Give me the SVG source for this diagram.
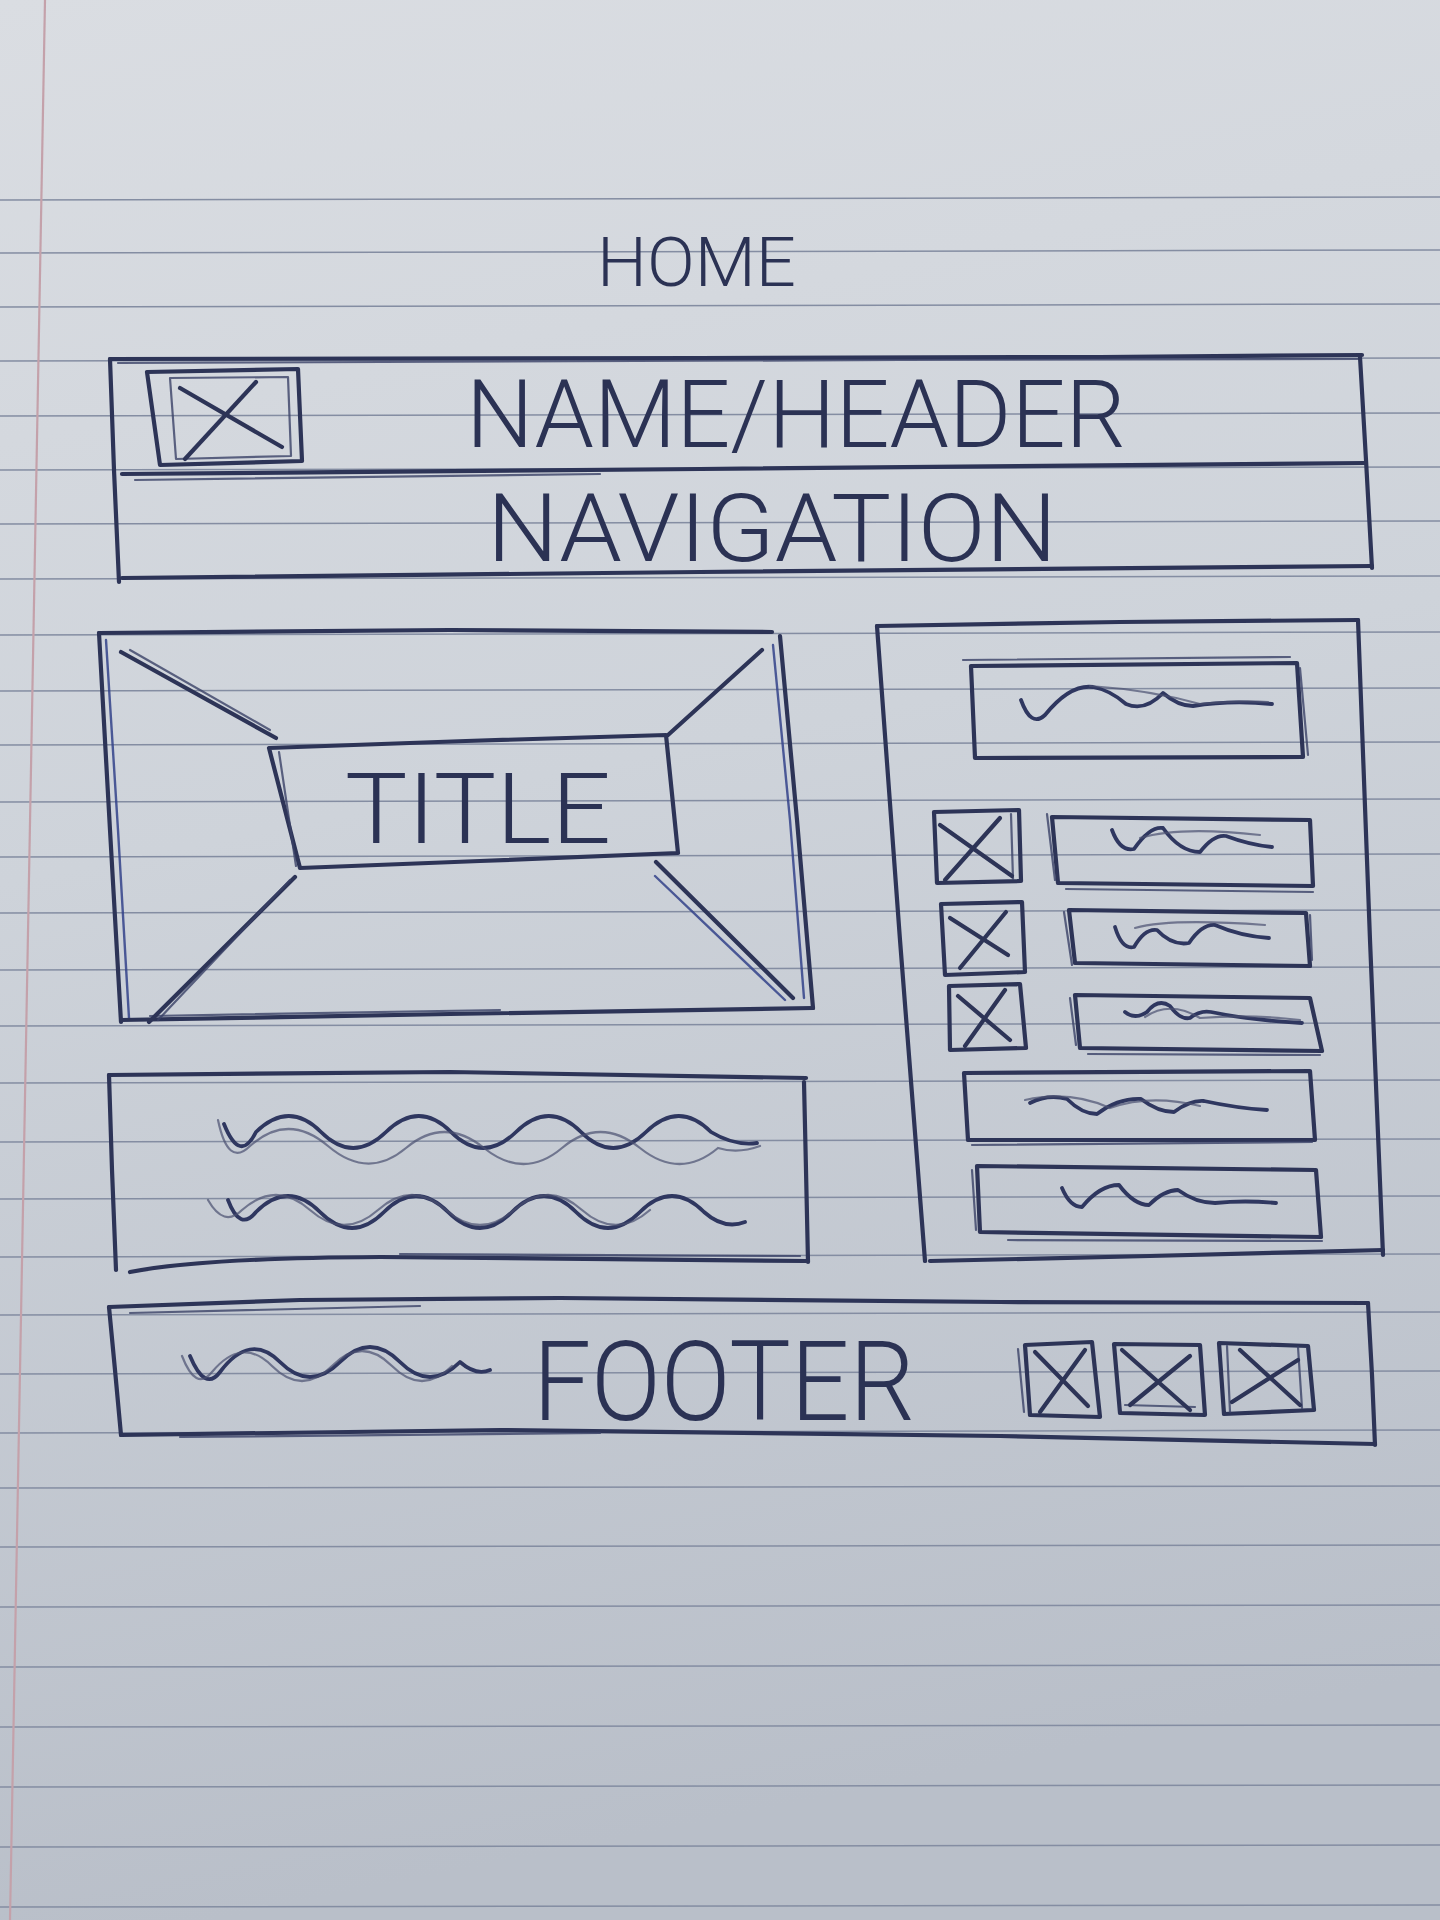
<svg xmlns="http://www.w3.org/2000/svg" width="1440" height="1920" viewBox="0 0 1440 1920">
<defs>
<linearGradient id="paper" x1="0" y1="0" x2="0.15" y2="1">
<stop offset="0" stop-color="#dadde2"/>
<stop offset="0.45" stop-color="#ced3da"/>
<stop offset="1" stop-color="#b9bfc9"/>
</linearGradient>
<style>
.rule{stroke:#848da2;stroke-width:1.5;fill:none}
.margin{stroke:#c4a1aa;stroke-width:2.2;fill:none}
.ink{fill:none;stroke:#2d3457;stroke-width:4.2;stroke-linecap:round;stroke-linejoin:round}
.thin{fill:none;stroke:#3a4166;stroke-width:2.2;stroke-linecap:round;stroke-linejoin:round;opacity:.8}
.blue{fill:none;stroke:#33428a;stroke-width:2.4;stroke-linecap:round;opacity:.85}
.wave{fill:none;stroke:#2f3760;stroke-width:3.8;stroke-linecap:round;stroke-linejoin:round}
.ghost{fill:none;stroke:#4a5070;stroke-width:2.2;stroke-linecap:round;opacity:.7}
.txt{font-family:Roboto,"Liberation Sans",Arial,sans-serif;font-weight:300;fill:#2b3254}
</style>
</defs>

<g id="paper-sheet">
<rect x="0" y="0" width="1440" height="1920" fill="url(#paper)"/>
<g class="rule">
<path d="M0 200 L1440 197"/><path d="M0 253 L1440 250"/><path d="M0 307 L1440 304"/><path d="M0 361 L1440 358"/>
<path d="M0 416 L1440 413"/><path d="M0 470 L1440 467"/><path d="M0 524 L1440 521"/><path d="M0 579 L1440 576"/>
<path d="M0 635 L1440 632"/><path d="M0 691 L1440 688"/><path d="M0 745 L1440 742"/><path d="M0 802 L1440 799"/>
<path d="M0 857 L1440 854"/><path d="M0 913 L1440 910"/><path d="M0 970 L1440 967"/><path d="M0 1026 L1440 1023"/>
<path d="M0 1083 L1440 1080"/><path d="M0 1142 L1440 1139"/><path d="M0 1199 L1440 1196"/><path d="M0 1257 L1440 1254"/>
<path d="M0 1315 L1440 1312"/><path d="M0 1374 L1440 1371"/><path d="M0 1433 L1440 1430"/><path d="M0 1488 L1440 1486"/>
<path d="M0 1547 L1440 1545"/><path d="M0 1607 L1440 1605"/><path d="M0 1667 L1440 1665"/><path d="M0 1727 L1440 1725"/>
<path d="M0 1787 L1440 1785"/><path d="M0 1847 L1440 1845"/><path d="M0 1907 L1440 1905"/>
</g>
<path class="margin" d="M45 0 L10 1920"/>
</g>

<g id="connectors"/>

<g id="page-title">
<text class="txt" x="597" y="286" font-size="69" textLength="199" lengthAdjust="spacingAndGlyphs">HOME</text>
</g>

<g id="header">
<path class="ink" d="M110 359 L700 358 L1100 357 L1362 355"/>
<path class="thin" d="M118 363 L900 360 L1360 359"/>
<path class="ink" d="M110 359 L114 470 L119 582"/>
<path class="ink" d="M122 474 L700 469 L1366 463"/>
<path class="thin" d="M135 480 L600 474"/>
<path class="ink" d="M122 578 L700 572 L1372 566"/>
<path class="ink" d="M1360 357 L1366 460 L1372 568"/>
<g id="header-logo">
<path class="ink" d="M147 372 L298 369 L302 461 L160 465 Z"/>
<path class="thin" d="M170 378 L288 377 L291 456 L176 459 Z"/>
<path class="ink" d="M180 388 L282 447"/>
<path class="ink" d="M256 382 L185 459"/>
</g>
<text class="txt" x="466" y="447" font-size="94" textLength="660" lengthAdjust="spacingAndGlyphs">NAME/HEADER</text>
<text class="txt" x="487" y="561" font-size="94" textLength="570" lengthAdjust="spacingAndGlyphs">NAVIGATION</text>
</g>

<g id="hero">
<path class="ink" d="M99 633 L450 630 L772 632"/>
<path class="ink" d="M99 633 L110 830 L121 1022"/>
<path class="blue" d="M106 640 L118 830 L129 1018"/>
<path class="ink" d="M121 1020 L450 1014 L813 1008"/>
<path class="thin" d="M150 1016 L500 1010"/>
<path class="ink" d="M780 636 L797 820 L813 1008"/>
<path class="blue" d="M773 645 L790 820 L804 998"/>
<path class="ink" d="M121 652 L276 738"/>
<path class="thin" d="M130 650 L270 730"/>
<path class="ink" d="M762 650 L668 735"/>
<path class="ink" d="M295 877 L149 1022"/>
<path class="thin" d="M290 880 L158 1020"/>
<path class="ink" d="M656 862 L793 998"/>
<path class="blue" d="M655 876 L785 1000"/>
<g id="hero-title">
<path class="ink" d="M269 748 L466 741 L666 735 L678 853 L480 861 L300 868 Z"/>
<path class="thin" d="M279 752 L296 866"/>
<text class="txt" x="345" y="843" font-size="98" textLength="266" lengthAdjust="spacingAndGlyphs">TITLE</text>
</g>
</g>

<g id="text-block">
<path class="ink" d="M109 1075 L450 1072 L806 1078"/>
<path class="ink" d="M109 1075 L112 1170 L116 1270"/>
<path class="ink" d="M804 1082 L806 1170 L808 1262"/>
<path class="ink" d="M130 1272 Q200 1258 380 1257 L806 1261"/>
<path class="thin" d="M400 1254 L800 1256"/>
<path class="wave" d="M224 1124 Q240 1164 256 1132 Q289 1100 321 1132 T386 1132 T451 1132 T516 1132 T581 1132 T646 1132 T711 1132 Q734 1146 757 1143"/>
<path class="ghost" transform="translate(-12 8)" d="M230 1112 Q240 1160 262 1138 Q300 1104 340 1138 T418 1140 T496 1140 T574 1140 T652 1140 T730 1140 Q750 1146 772 1138"/>
<path class="wave" d="M228 1200 Q240 1232 256 1212 Q288 1180 320 1212 T384 1212 T448 1212 T512 1212 T576 1212 T640 1212 T704 1212 Q724 1230 745 1222"/>
<path class="ghost" transform="translate(-20 -4)" d="M228 1204 Q244 1232 262 1214 Q296 1184 330 1214 T398 1214 T466 1214 T534 1214 T602 1214 T670 1214"/>
</g>

<g id="sidebar">
<path class="ink" d="M877 626 L1120 622 L1358 620"/>
<path class="ink" d="M877 626 L900 940 L925 1261"/>
<path class="ink" d="M1358 620 L1370 940 L1383 1255"/>
<path class="ink" d="M930 1261 L1150 1256 L1383 1250"/>
<g id="sb-box1">
<path class="ink" d="M971 666 L1297 663 L1303 757 L975 758 Z"/>
<path class="thin" d="M963 660 L1290 657 M1300 668 L1308 755"/>
<path class="wave" d="M1021 700 Q1031 728 1045 715 Q1070 684 1093 687 Q1110 690 1126 704 Q1145 712 1163 693 Q1178 706 1193 706 Q1230 700 1272 704"/>
<path class="ghost" d="M1090 686 Q1150 690 1200 704 Q1240 700 1268 702"/>
</g>
<g id="sb-img1">
<path class="ink" d="M934 812 L1019 810 L1021 881 L937 883 Z"/>
<path class="thin" d="M1011 814 L1013 879"/>
<path class="ink" d="M940 825 L1012 876 M1000 818 L945 880"/>
</g>
<g id="sb-txt1">
<path class="ink" d="M1052 817 L1310 820 L1313 886 L1058 883 Z"/>
<path class="thin" d="M1047 814 L1055 880 M1066 889 L1313 892"/>
<path class="wave" d="M1112 830 Q1120 852 1134 849 Q1150 826 1163 828 Q1180 852 1200 852 Q1214 834 1226 836 Q1250 845 1272 847"/>
<path class="ghost" d="M1140 838 Q1180 826 1260 835"/>
</g>
<g id="sb-img2">
<path class="ink" d="M941 904 L1022 902 L1025 972 L945 975 Z"/>
<path class="ink" d="M950 918 L1008 955 M1006 912 L960 968"/>
</g>
<g id="sb-txt2">
<path class="ink" d="M1069 910 L1306 913 L1310 966 L1075 963 Z"/>
<path class="thin" d="M1064 912 L1072 965 M1310 915 L1312 960"/>
<path class="wave" d="M1115 927 Q1122 950 1134 947 Q1145 928 1157 930 Q1172 946 1189 943 Q1202 924 1215 925 Q1240 936 1269 938"/>
<path class="ghost" d="M1135 928 Q1170 918 1265 925"/>
</g>
<g id="sb-img3">
<path class="ink" d="M949 986 L1020 984 L1026 1048 L950 1050 Z"/>
<path class="ink" d="M958 996 L1010 1040 M1005 990 L965 1046"/>
</g>
<g id="sb-txt3">
<path class="ink" d="M1075 995 L1310 998 L1322 1051 L1080 1048 Z"/>
<path class="thin" d="M1070 998 L1076 1045 M1088 1054 L1320 1055"/>
<path class="wave" d="M1125 1012 Q1135 1020 1147 1012 Q1158 998 1170 1006 Q1180 1020 1190 1018 Q1200 1010 1211 1012 Q1250 1020 1302 1023"/>
<path class="ghost" d="M1145 1017 Q1170 1000 1200 1018 Q1250 1014 1300 1020"/>
</g>
<g id="sb-box4">
<path class="ink" d="M964 1073 L1310 1071 L1315 1140 L968 1140 Z"/>
<path class="thin" d="M972 1145 L1312 1142"/>
<path class="wave" d="M1030 1103 Q1048 1094 1067 1099 Q1082 1114 1097 1114 Q1118 1098 1141 1099 Q1158 1112 1174 1112 Q1190 1100 1204 1101 Q1236 1108 1267 1110"/>
<path class="ghost" d="M1025 1100 Q1070 1090 1110 1108 Q1150 1094 1200 1106"/>
</g>
<g id="sb-box5">
<path class="ink" d="M977 1166 L1316 1170 L1321 1237 L980 1232 Z"/>
<path class="thin" d="M1008 1240 L1322 1241 M972 1170 L976 1230"/>
<path class="wave" d="M1062 1188 Q1070 1207 1082 1207 Q1100 1185 1119 1185 Q1134 1205 1149 1205 Q1164 1190 1178 1190 Q1196 1203 1215 1203 Q1245 1200 1276 1203"/>
</g>
</g>

<g id="footer">
<path class="ink" d="M109 1307 L300 1300 L560 1298 L1000 1302 L1368 1303"/>
<path class="thin" d="M130 1313 L420 1306"/>
<path class="ink" d="M109 1307 L115 1370 L121 1435"/>
<path class="ink" d="M1368 1303 L1372 1375 L1375 1445"/>
<path class="ink" d="M121 1435 L500 1430 L1000 1436 L1375 1444"/>
<path class="thin" d="M180 1437 L600 1433"/>
<path class="wave" d="M190 1356 Q205 1392 220 1372 Q250 1332 280 1362 T340 1362 T400 1362 T460 1362 Q476 1376 490 1370"/>
<path class="ghost" transform="translate(-14 6)" d="M196 1350 Q210 1386 226 1366 Q256 1330 286 1360 T346 1360 T406 1360 T466 1360"/>
<text class="txt" x="533" y="1420" font-size="112" textLength="382" lengthAdjust="spacingAndGlyphs">FOOTER</text>
<g id="footer-img1">
<path class="ink" d="M1025 1345 L1092 1342 L1100 1417 L1030 1415 Z"/>
<path class="thin" d="M1018 1349 L1024 1412"/>
<path class="ink" d="M1035 1352 L1088 1406 M1085 1350 L1040 1412"/>
</g>
<g id="footer-img2">
<path class="ink" d="M1114 1344 L1200 1345 L1205 1415 L1120 1413 Z"/>
<path class="thin" d="M1125 1405 L1195 1407"/>
<path class="ink" d="M1122 1350 L1190 1410 M1190 1356 L1130 1405"/>
</g>
<g id="footer-img3">
<path class="ink" d="M1219 1343 L1308 1346 L1314 1410 L1224 1414 Z"/>
<path class="thin" d="M1227 1346 L1230 1412 M1298 1347 L1302 1408"/>
<path class="ink" d="M1240 1350 L1300 1405 M1298 1360 L1232 1402"/>
</g>
</g>
</svg>
